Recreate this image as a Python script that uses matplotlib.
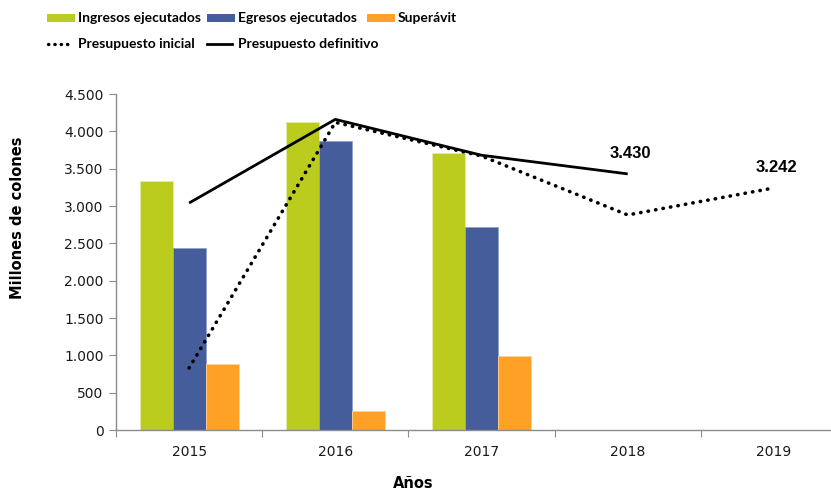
import matplotlib
matplotlib.use("Agg")
import matplotlib.pyplot as plt
from matplotlib.patches import Rectangle
from matplotlib.lines import Line2D
import numpy as np

years = ["2015", "2016", "2017", "2018", "2019"]
ingresos = [3340, 4130, 3710]
egresos = [2440, 3870, 2720]
superavit = [880, 260, 990]
pres_inicial = [830, 4120, 3670, 2880, 3242]
pres_definitivo = [3040, 4160, 3680, 3430]
labels_text = {3: "3.430", 4: "3.242"}

c_ing = "#BBCC1E"
c_egr = "#465D9B"
c_sup = "#FFA126"
axis_gray = "#8C8C8C"

fig = plt.figure(figsize=(8.31, 4.91), dpi=100)
ax = fig.add_axes([116/831, 61/491, 731/831, 336/491])

x = np.arange(len(years))
w = 0.226
n = len(ingresos)
ax.bar(x[:n] - w, ingresos, w, color=c_ing, edgecolor="#E4EBA8", linewidth=0.6, zorder=2)
ax.bar(x[:n], egresos, w, color=c_egr, edgecolor="#8FA0CC", linewidth=0.6, zorder=2)
ax.bar(x[:n] + w, superavit, w, color=c_sup, edgecolor="#FFD29A", linewidth=0.6, zorder=2)

ax.plot(x[:len(pres_definitivo)], pres_definitivo, color="black", lw=2.0, zorder=4, solid_capstyle="butt")
ax.plot(x[:len(pres_inicial)], pres_inicial, color="black", lw=2.6, zorder=3,
        linestyle=(0, (0.1, 2.0)), dash_capstyle="round")

for i, t in labels_text.items():
    val = pres_definitivo[i] if i < len(pres_definitivo) else pres_inicial[i]
    ax.annotate(t, (x[i], val), xytext=(2, 9), textcoords="offset points",
                ha="center", va="bottom", fontsize=12, fontweight="bold",
                family="Liberation Sans", color="black")

ax.set_xlim(-0.5, 4.5)
ax.set_ylim(0, 4500)
ax.set_yticks(np.arange(0, 4501, 500))
ax.set_yticklabels([f"{int(v):,}".replace(",", ".") for v in np.arange(0, 4501, 500)],
                   fontsize=10, color="#1a1a1a")
ax.set_xticks(np.arange(-0.5, 4.6, 1.0))
ax.set_xticklabels([])
ax.set_xticks(x, minor=True)
ax.set_xticklabels(years, minor=True, fontsize=10, color="#1a1a1a")
ax.tick_params(axis="x", which="major", length=5, color=axis_gray, direction="out")
ax.tick_params(axis="x", which="minor", length=0, pad=11)
ax.tick_params(axis="y", length=5, color=axis_gray, direction="out", pad=4)

for s in ["top", "right"]:
    ax.spines[s].set_visible(False)
for s in ["left", "bottom"]:
    ax.spines[s].set_color(axis_gray)
    ax.spines[s].set_linewidth(1.0)

fig.text(18/831, 1 - 218/491, "Millones de colones", rotation=90, ha="center", va="center",
         fontsize=10.5, fontweight="bold")
fig.text(413/831, 1 - 483/491, "Años", ha="center", va="center", fontsize=10.5, fontweight="bold")

# legend (manual)
leg_font = dict(fontsize=10, fontweight="bold", family="Lato", va="center", ha="left")
row1 = 1 - 18/491
row2 = 1 - 44/491
items1 = [(47, c_ing, "Ingresos ejecutados"), (207, c_egr, "Egresos ejecutados"), (367, c_sup, "Superávit")]
for px, col, txt in items1:
    fig.patches.append(Rectangle((px/831, row1 - 4/491), 28/831, 8/491, transform=fig.transFigure,
                                 facecolor=col, edgecolor="none"))
    fig.text((px + 31)/831, row1, txt, **leg_font)
fig.lines.append(Line2D([48/831, 70/831], [row2, row2], transform=fig.transFigure, color="black",
                        lw=2.4, linestyle=(0, (0.1, 1.8)), dash_capstyle="round"))
fig.text(78/831, row2, "Presupuesto inicial", **leg_font)
fig.lines.append(Line2D([207/831, 232/831], [row2, row2], transform=fig.transFigure, color="black", lw=2.0))
fig.text(238/831, row2, "Presupuesto definitivo", **leg_font)

fig.savefig("out.png", dpi=100)
